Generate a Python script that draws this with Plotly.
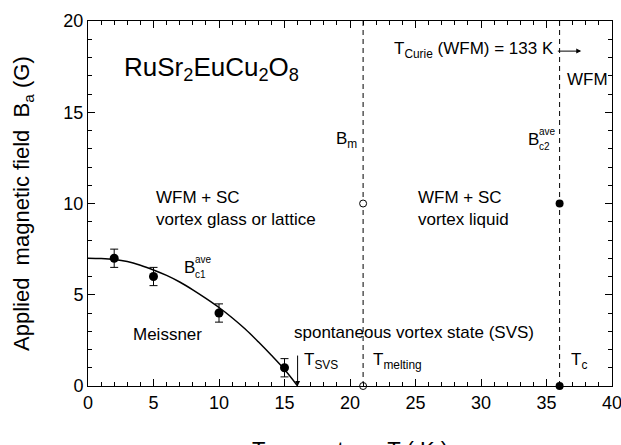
import plotly.graph_objects as go

FONT = "Liberation Sans, Arial, sans-serif"

# measured Bc1 points
t_bc1 = [2, 5, 10, 15]
b_bc1 = [7.0, 6.0, 4.0, 1.0]
err_bc1 = [0.5, 0.5, 0.5, 0.5]

# fitted curve
t_fit = [0, 1, 2, 3, 4, 5, 6, 7, 8, 9, 10, 11, 12, 13, 14, 15, 16]
b_fit = [7.0, 6.98, 6.93, 6.82, 6.62, 6.36, 6.06, 5.7, 5.27, 4.8, 4.3, 3.74, 3.12, 2.42, 1.68, 0.9, 0.0]

# melting / Tc markers
t_melt = [21, 21]
b_melt = [10, 0]
t_c = [36, 36]
b_c = [10, 0]

# vertical dashed boundaries
t_lines = [21, 36]
b_range = [0, 20]

fig = go.Figure()

for tl in t_lines:
    fig.add_trace(go.Scatter(x=[tl, tl], y=b_range, mode="lines",
                             line=dict(color="black", width=1, dash="5px,4px"),
                             hoverinfo="skip"))

fig.add_trace(go.Scatter(x=t_fit, y=b_fit, mode="lines",
                         line=dict(color="black", width=1.5, shape="spline")))

fig.add_trace(go.Scatter(x=t_bc1, y=b_bc1, mode="markers",
                         marker=dict(color="black", size=9),
                         error_y=dict(type="data", array=err_bc1, color="black",
                                      thickness=1, width=4)))

fig.add_trace(go.Scatter(x=t_melt, y=b_melt, mode="markers",
                         marker=dict(color="white", size=7,
                                     line=dict(color="black", width=1)),
                         cliponaxis=False))

fig.add_trace(go.Scatter(x=t_c, y=b_c, mode="markers",
                         marker=dict(color="black", size=8),
                         cliponaxis=False))

def txt(x, y, s, size=17, anchor="left"):
    fig.add_annotation(x=x, y=y, text=s, showarrow=False, xanchor=anchor,
                       yanchor="middle", font=dict(family=FONT, size=size, color="black"))

txt(2.6, 17.4, "RuSr<sub>2</sub>EuCu<sub>2</sub>O<sub>8</sub>", size=26)
txt(5.0, 10.35, "WFM + SC")
txt(5.0, 9.15, "vortex glass or lattice")
txt(25.0, 10.35, "WFM + SC")
txt(25.0, 9.15, "vortex liquid")
txt(3.3, 2.8, "Meissner")
txt(15.55, 2.95, "spontaneous vortex state (SVS)")
txt(16.35, 1.35, "T<sub>SVS</sub>")
txt(21.6, 1.35, "T<sub>melting</sub>")
txt(36.7, 1.35, "T<sub>c</sub>")
txt(18.8, 13.5, "B<sub>m</sub>")
txt(23.2, 18.4, "T<sub>Curie</sub> (WFM) = 133 K")
txt(36.4, 16.8, "WFM")

# stacked super/subscripts
txt(7.15, 6.5, "B")
txt(8.0, 6.95, "ave", size=10)
txt(8.0, 6.1, "c1", size=10)
txt(33.45, 13.5, "B")
txt(34.3, 13.95, "ave", size=10)
txt(34.3, 13.1, "c2", size=10)

# axis titles as paper annotations
fig.add_annotation(x=0.5, y=-0.175, xref="paper", yref="paper", showarrow=False,
                   text="Temperature  T ( K )", xanchor="center", yanchor="middle",
                   font=dict(family=FONT, size=22, color="black"))
fig.add_annotation(x=-0.125, y=0.5, xref="paper", yref="paper", showarrow=False,
                   text="Applied  magnetic field  B<sub>a</sub> (G)", textangle=-90,
                   xanchor="center", yanchor="middle",
                   font=dict(family=FONT, size=22, color="black"))

# arrows
fig.add_annotation(x=16, y=0, ax=16, ay=1.75, xref="x", yref="y", axref="x", ayref="y",
                   showarrow=True, arrowhead=2, arrowsize=1, arrowwidth=1, arrowcolor="black", text="")
fig.add_annotation(x=37.65, y=18.35, ax=35.75, ay=18.35, xref="x", yref="y", axref="x", ayref="y",
                   showarrow=True, arrowhead=2, arrowsize=1, arrowwidth=1, arrowcolor="black", text="")

axis_common = dict(showline=True, linecolor="black", mirror="allticks",
                   ticks="inside", ticklen=7, tickcolor="black",
                   gridcolor="white",
                   ticklabeloverflow="allow",
                   tickfont=dict(family=FONT, size=18, color="black"),
                   minor=dict(ticks="inside", ticklen=4, dtick=1, tickcolor="black"))

fig.update_xaxes(range=[0, 40], dtick=5, **axis_common)
fig.update_yaxes(range=[0, 20], dtick=5, **axis_common)

fig.update_layout(template="none", width=621, height=445, margin=dict(l=88, r=9, t=21, b=59),
                  plot_bgcolor="white", showlegend=False)

fig.write_html("out.html")
